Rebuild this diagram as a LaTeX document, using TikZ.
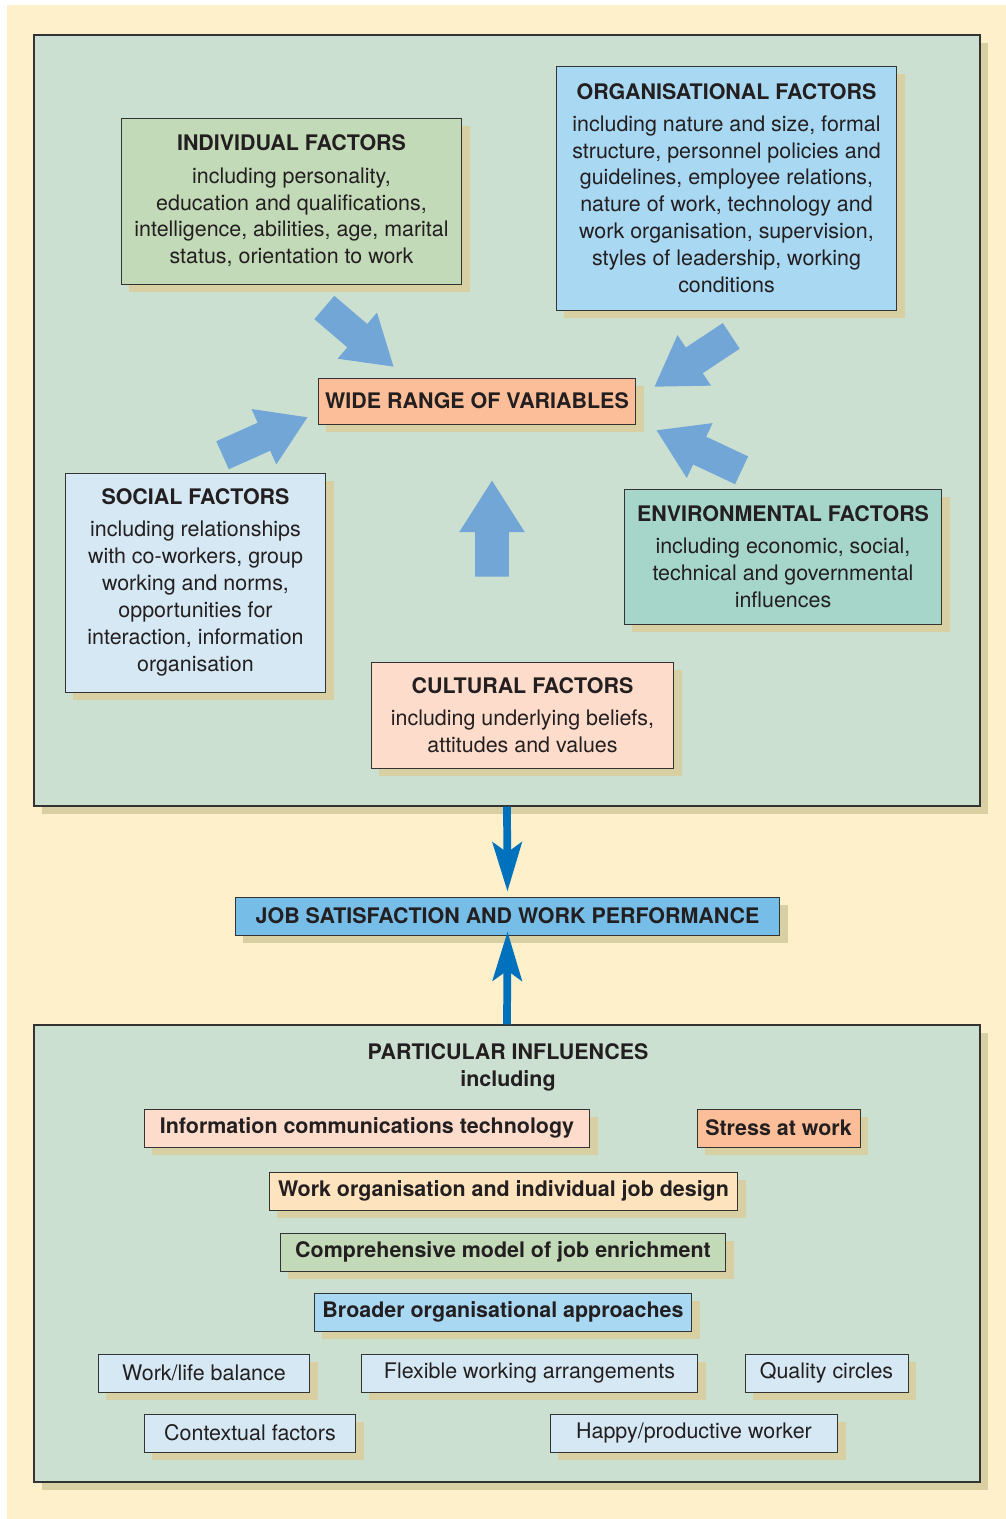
\documentclass[tikz,border=0pt]{standalone}
\usepackage{fontspec}
\setmainfont{TeX Gyre Heros}
\usetikzlibrary{shapes.arrows,shadows,arrows.meta}

\definecolor{cream}{HTML}{FEF0CB}
\definecolor{panelgreen}{HTML}{CCE0D2}
\definecolor{shadowtan}{HTML}{D8D0A3}
\definecolor{boxline}{HTML}{333333}
\definecolor{inktext}{HTML}{231F20}
\definecolor{indgreen}{HTML}{C3DAB8}
\definecolor{orgblue}{HTML}{A9D8F3}
\definecolor{salmon}{HTML}{FBBE98}
\definecolor{socblue}{HTML}{D5E8F3}
\definecolor{envteal}{HTML}{A6D5CA}
\definecolor{culpink}{HTML}{FDDCCB}
\definecolor{jobblue}{HTML}{76BDE8}
\definecolor{peach}{HTML}{FDE3BE}
\definecolor{arrowblue}{HTML}{72A6D6}
\definecolor{linkblue}{HTML}{0071BC}

\tikzset{
        tanshadow/.style={drop shadow={shadow xshift=0.16cm, shadow yshift=-0.16cm, fill=shadowtan, opacity=1}},
        panel/.style={draw=boxline, line width=0.7pt, fill=panelgreen, tanshadow},
        factorbox/.style={draw=boxline, line width=0.55pt, align=center, inner sep=0pt,
            text=inktext, font=\fontsize{12.2}{15.3}\selectfont, tanshadow},
        influence/.style={factorbox, minimum height=0.76cm},
        bigarrow/.style={single arrow, fill=arrowblue, inner xsep=0pt, inner ysep=0.3cm,
            minimum width=1.2cm, single arrow head extend=0.3cm, single arrow tip angle=65,
            anchor=tip},
        link/.style={line width=4.4pt, draw=linkblue,
            -{Stealth[length=0.98cm, width=0.58cm, inset=0.2cm]}}
    }

\begin{document}
\begin{tikzpicture}[x=0.02cm, y=-0.02cm]

\useasboundingbox (0,0) rectangle (1006,1519);
\fill[white] (0,0) rectangle (1006,1519);
\fill[cream] (7,5) rectangle (1006,1519);

% the two panels
\draw (507,420.5) node(TOP)[panel, minimum width=18.92cm, minimum height=15.42cm]{};
\draw (507,1253.5) node(BOT)[panel, minimum width=18.92cm, minimum height=9.14cm]{};

% factors
\draw (291.5,201) node(IND)[factorbox, fill=indgreen, minimum width=6.82cm, minimum height=3.32cm]
    {\textbf{INDIVIDUAL FACTORS}\\[3pt] including personality,\\ education and qualifications,\\
     intelligence, abilities, age, marital\\ status, orientation to work};
\draw (726.5,188) node(ORG)[factorbox, fill=orgblue, minimum width=6.82cm, minimum height=4.88cm]
    {\textbf{ORGANISATIONAL FACTORS}\\[3pt] including nature and size, formal\\
     structure, personnel policies and\\ guidelines, employee relations,\\
     nature of work, technology and\\ work organisation, supervision,\\
     styles of leadership, working\\ conditions};
\draw (477,401) node(WIDE)[factorbox, fill=salmon, minimum width=6.36cm, minimum height=0.92cm]
    {\textbf{WIDE RANGE OF VARIABLES}};
\draw (195.5,582.5) node(SOC)[factorbox, fill=socblue, minimum width=5.22cm, minimum height=4.38cm]
    {\textbf{SOCIAL FACTORS}\\[3pt] including relationships\\ with co-workers, group\\
     working and norms,\\ opportunities for\\ interaction, information\\ organisation};
\draw (783,556.5) node(ENV)[factorbox, fill=envteal, minimum width=6.36cm, minimum height=2.7cm]
    {\textbf{ENVIRONMENTAL FACTORS}\\[3pt] including economic, social,\\
     technical and governmental\\ influences};
\draw (522.5,715) node(CUL)[factorbox, fill=culpink, minimum width=6.06cm, minimum height=2.12cm]
    {\textbf{CULTURAL FACTORS}\\[3pt] including underlying beliefs,\\ attitudes and values};

% block arrows towards the variables, placed by their tips
\draw (394,367) node(AIND)[bigarrow, minimum height=1.82cm, rotate=-40.5]{};
\draw (654,387) node(AORG)[bigarrow, minimum height=1.84cm, rotate=213.5]{};
\draw (656,430) node(AENV)[bigarrow, minimum height=1.88cm, rotate=154.8]{};
\draw (492,480) node(ACUL)[bigarrow, minimum height=1.92cm, inner ysep=0.33cm,
    minimum width=1.3cm, single arrow head extend=0.32cm, rotate=90]{};
\draw (308,417) node(ASOC)[bigarrow, minimum height=1.86cm, rotate=24.1]{};

% outcome
\draw (507.5,916) node(JOB)[influence, fill=jobblue, minimum width=10.9cm]
    {\textbf{JOB SATISFACTION AND WORK PERFORMANCE}};

\draw[link, shorten >=0.1cm] (TOP.south) -- (JOB.north);
\draw[link, shorten >=-0.08cm] (BOT.north) -- (JOB.south);

% particular influences
\draw (508,1067) node(PART)[align=center, text=inktext, font=\bfseries\fontsize{12.2}{15.3}\selectfont]
    {PARTICULAR INFLUENCES\\ including};
\draw (367,1128) node(ICT)[influence, fill=culpink, minimum width=8.92cm]
    {\textbf{Information communications technology}};
\draw (778.5,1128) node(STR)[influence, fill=salmon, minimum width=3.26cm]{\textbf{Stress at work}};
\draw (503.5,1191) node(WORG)[influence, fill=peach, minimum width=9.38cm]
    {\textbf{Work organisation and individual job design}};
\draw (503,1252) node(COMP)[influence, fill=indgreen, minimum width=8.92cm]
    {\textbf{Comprehensive model of job enrichment}};
\draw (503,1312) node(BROAD)[influence, fill=orgblue, minimum width=7.56cm]
    {\textbf{Broader organisational approaches}};
\draw (204,1373) node(WLB)[influence, fill=socblue, minimum width=4.24cm]{Work/life balance};
\draw (529.5,1373) node(FLEX)[influence, fill=socblue, minimum width=6.74cm]{Flexible working arrangements};
\draw (826.5,1373) node(QC)[influence, fill=socblue, minimum width=3.26cm]{Quality circles};
\draw (250,1433) node(CTX)[influence, fill=socblue, minimum width=4.24cm]{Contextual factors};
\draw (694,1433) node(HAPPY)[influence, fill=socblue, minimum width=5.76cm]{Happy/productive worker};

\end{tikzpicture}
\end{document}
